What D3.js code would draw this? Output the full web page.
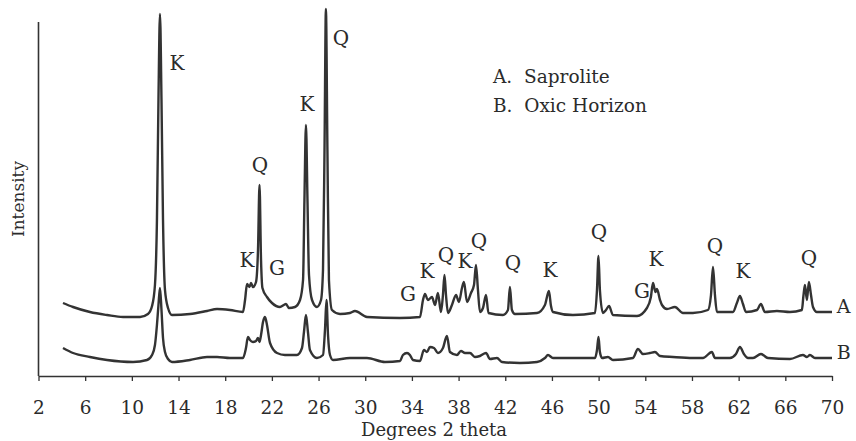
<!DOCTYPE html>
<html>
<head>
<meta charset="utf-8">
<script src="https://cdn.jsdelivr.net/npm/d3@7"></script>
<style>
  html, body { margin: 0; padding: 0; background: #ffffff; }
  svg { display: block; }
  text { font-family: "DejaVu Serif", "Liberation Serif", serif; fill: #2b2b2b; }
</style>
</head>
<body>
<svg id="chart" width="856" height="441"></svg>
<script>
// ---------------- DATA ----------------
const tickLabels = [2, 6, 10, 14, 18, 22, 26, 30, 34, 38, 42, 46, 50, 54, 58, 62, 66, 70];

// Series A: Saprolite (2θ in degrees, intensity in arbitrary units)
const saproliteTheta = [4.10, 4.96, 6.41, 7.87, 9.24, 10.70, 11.38, 11.73, 11.98, 12.15, 12.28, 12.41, 12.54, 12.67, 12.84, 13.10, 13.44, 14.98, 16.44, 17.30, 18.41, 19.52, 19.70, 19.87, 20.08, 20.21, 20.38, 20.64, 20.81, 20.94, 21.07, 21.19, 21.58, 22.01, 22.69, 23.03, 23.21, 23.46, 23.98, 24.41, 24.67, 24.79, 24.92, 25.05, 25.18, 25.44, 25.86, 26.21, 26.38, 26.51, 26.63, 26.76, 26.89, 27.15, 27.84, 28.69, 29.12, 30.15, 32.98, 34.69, 34.95, 35.12, 35.37, 35.72, 35.98, 36.23, 36.49, 36.66, 36.79, 36.92, 37.09, 37.43, 37.78, 38.03, 38.29, 38.46, 38.72, 39.06, 39.32, 39.49, 39.66, 39.83, 40.09, 40.35, 40.56, 41.80, 42.23, 42.40, 42.57, 42.83, 44.72, 45.40, 45.74, 45.92, 46.09, 47.80, 49.69, 49.86, 49.99, 50.11, 50.37, 50.63, 50.89, 51.23, 53.29, 54.14, 54.48, 54.66, 54.87, 55.00, 55.26, 55.43, 55.86, 56.54, 57.23, 58.08, 59.37, 59.63, 59.80, 59.97, 60.14, 61.51, 61.85, 62.11, 62.37, 62.63, 63.57, 63.91, 64.25, 65.28, 66.40, 67.42, 67.55, 67.68, 67.85, 68.02, 68.20, 68.37, 68.71, 70.00];
const saproliteIntensity = [73, 69, 64, 61, 59, 59, 62, 70, 91, 156, 276, 362, 276, 156, 86, 68, 61, 62, 65, 67, 66, 64, 76, 92, 89, 93, 89, 94, 126, 191, 116, 88, 79, 73, 69, 71, 72, 68, 69, 76, 96, 176, 251, 176, 101, 76, 69, 76, 106, 226, 367, 226, 96, 66, 62, 63, 65, 59, 58, 59, 76, 82, 76, 79, 71, 83, 64, 81, 101, 81, 63, 71, 81, 74, 88, 94, 74, 83, 91, 111, 86, 64, 68, 81, 63, 61, 66, 89, 66, 62, 63, 71, 85, 70, 64, 61, 63, 86, 120, 86, 63, 66, 70, 61, 60, 68, 79, 93, 84, 87, 76, 71, 67, 69, 63, 63, 66, 81, 109, 81, 64, 64, 73, 80, 72, 64, 66, 72, 64, 65, 64, 66, 80, 91, 76, 94, 81, 69, 64, 64];

// Series B: Oxic Horizon
const oxicTheta = [4.10, 4.96, 6.41, 7.87, 10.10, 11.30, 11.73, 11.98, 12.15, 12.28, 12.41, 12.54, 12.67, 12.84, 13.10, 13.44, 14.98, 16.44, 17.30, 18.41, 19.52, 19.78, 19.95, 20.12, 20.38, 20.64, 20.81, 20.94, 21.07, 21.24, 21.41, 21.58, 21.84, 22.44, 23.12, 24.15, 24.58, 24.75, 24.92, 25.09, 25.26, 25.86, 26.38, 26.55, 26.68, 26.81, 26.98, 27.24, 28.69, 30.15, 31.69, 32.98, 33.23, 33.58, 33.83, 34.09, 34.69, 35.03, 35.29, 35.55, 35.89, 36.23, 36.66, 37.00, 37.26, 37.86, 38.20, 38.55, 38.98, 39.40, 39.83, 40.35, 40.69, 41.29, 41.72, 43.26, 44.72, 45.40, 45.66, 46.09, 47.80, 49.69, 49.86, 49.99, 50.11, 50.29, 50.80, 51.23, 52.94, 53.37, 53.80, 54.40, 54.83, 55.26, 56.37, 58.08, 58.94, 59.71, 59.97, 61.25, 61.77, 62.11, 62.45, 62.80, 63.23, 63.91, 64.51, 66.40, 67.51, 67.85, 68.11, 68.54, 70.00];
const oxicIntensity = [28, 23, 19, 16, 14, 16, 21, 31, 51, 71, 88, 66, 38, 24, 17, 14, 16, 19, 19, 18, 18, 28, 39, 36, 34, 35, 38, 34, 41, 54, 59, 51, 33, 23, 21, 21, 28, 44, 61, 44, 26, 18, 21, 46, 76, 41, 21, 16, 18, 18, 14, 15, 21, 23, 21, 16, 15, 26, 24, 29, 28, 23, 28, 40, 24, 21, 25, 23, 23, 19, 20, 23, 17, 18, 14, 13, 14, 18, 21, 18, 18, 18, 26, 39, 24, 18, 19, 16, 18, 27, 22, 23, 24, 20, 19, 18, 18, 24, 18, 18, 22, 29, 22, 18, 18, 22, 18, 17, 21, 19, 21, 18, 18];

// Peak annotations: mineral letter, 2θ, intensity level of the label
const peakLetters   = ["K", "Q", "K", "Q", "K", "G", "G", "K", "Q", "K", "Q", "Q", "K", "Q", "G", "K", "Q", "K", "Q"];
const peakTheta     = [13.87, 27.92, 25.01, 20.98, 19.87, 22.44, 33.66, 35.29, 36.92, 38.55, 39.75, 42.66, 45.83, 50.03, 53.71, 54.91, 59.97, 62.37, 68.02];
const peakLabelLevel = [313, 338, 272, 211, 116, 108, 82, 105, 121, 115, 135, 113, 106, 144, 85, 117, 130, 105, 118];

const seriesNames = ["A", "B"];
const seriesEndLevel = [70, 24];
const legendLines = ["A.  Saprolite", "B.  Oxic Horizon"];

// ---------------- CHART ----------------
const svg = d3.select("#chart");
const ink = "#333333";

const x = d3.scaleLinear().domain([2, 70]).range([38.5, 832]);
const y = d3.scaleLinear().domain([0, 370]).range([376, 6]);

// x axis
const xAxis = d3.axisBottom(x)
  .tickValues(tickLabels)
  .tickSize(5)
  .tickSizeOuter(0)
  .tickPadding(20)
  .tickFormat(d3.format("d"));

const gx = svg.append("g")
  .attr("transform", `translate(0,${y(0)})`)
  .call(xAxis);
gx.select(".domain").attr("stroke", ink).attr("stroke-width", 1.6);
gx.selectAll(".tick line").attr("stroke", ink).attr("stroke-width", 1.3);
gx.selectAll(".tick text")
  .attr("font-family", "DejaVu Serif, serif")
  .attr("font-size", 18.5)
  .attr("fill", "#2b2b2b");

// y axis (line only)
svg.append("line")
  .attr("x1", x(2)).attr("x2", x(2))
  .attr("y1", 22).attr("y2", y(0))
  .attr("stroke", ink).attr("stroke-width", 1.6);

// axis titles
svg.append("text")
  .attr("x", 434).attr("y", 436)
  .attr("text-anchor", "middle")
  .attr("font-size", 18)
  .text("Degrees 2 theta");

svg.append("text")
  .attr("transform", "translate(24,199) rotate(-90)")
  .attr("text-anchor", "middle")
  .attr("font-size", 17)
  .text("Intensity");

// traces
const line = d3.line()
  .x(d => x(d[0]))
  .y(d => y(d[1]))
  .curve(d3.curveMonotoneX);

const seriesA = saproliteTheta.map((t, i) => [t, saproliteIntensity[i]]);
const seriesB = oxicTheta.map((t, i) => [t, oxicIntensity[i]]);

[seriesA, seriesB].forEach(s => {
  svg.append("path")
    .datum(s)
    .attr("fill", "none")
    .attr("stroke", ink)
    .attr("stroke-width", 2.4)
    .attr("stroke-linejoin", "round")
    .attr("d", line);
});

// peak labels
svg.append("g").selectAll("text")
  .data(peakLetters)
  .join("text")
  .attr("x", (d, i) => x(peakTheta[i]))
  .attr("y", (d, i) => y(peakLabelLevel[i]))
  .attr("text-anchor", "middle")
  .attr("dominant-baseline", "central")
  .attr("font-size", 20)
  .text(d => d);

// series end labels
svg.append("g").selectAll("text")
  .data(seriesNames)
  .join("text")
  .attr("x", d => x(71.0))
  .attr("y", (d, i) => y(seriesEndLevel[i]))
  .attr("text-anchor", "middle")
  .attr("dominant-baseline", "central")
  .attr("font-size", 19)
  .text(d => d);

// legend
svg.append("g").selectAll("text")
  .data(legendLines)
  .join("text")
  .attr("x", 493)
  .attr("y", (d, i) => 83 + i * 29)
  .attr("font-size", 18.5)
  .attr("xml:space", "preserve")
  .style("white-space", "pre")
  .text(d => d);
</script>
</body>
</html>
